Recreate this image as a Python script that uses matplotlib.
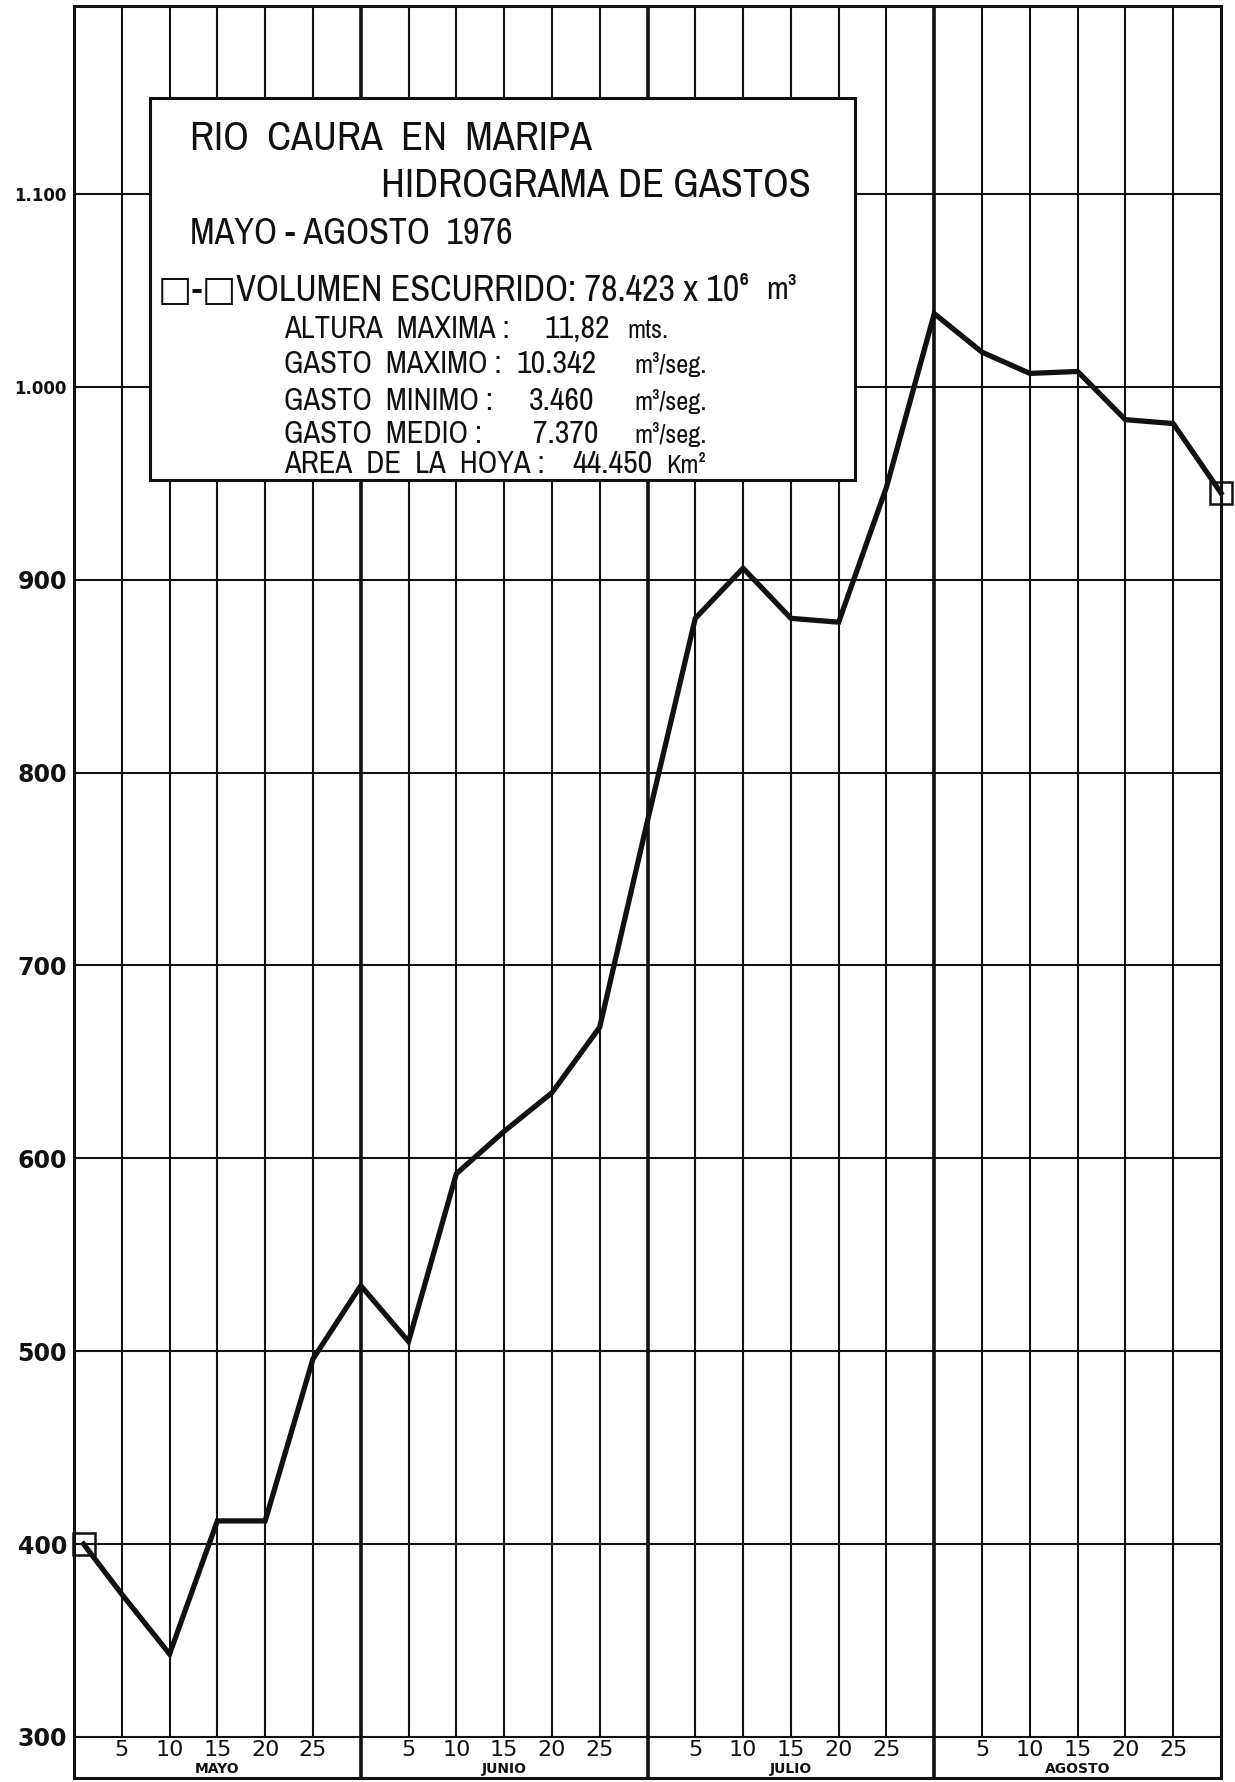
import matplotlib
matplotlib.use("Agg")
import matplotlib.pyplot as plt
from matplotlib import font_manager
from matplotlib.patches import Rectangle

meses = ["MAYO", "JUNIO", "JULIO", "AGOSTO"]
dias_marca = [5, 10, 15, 20, 25]
mes_idx = [0, 0, 0, 0, 0, 0, 0, 1, 1, 1, 1, 1, 1, 2, 2, 2, 2, 2, 2, 3, 3, 3, 3, 3, 3]
dia = [1, 5, 10, 15, 20, 25, 30, 5, 10, 15, 20, 25, 30, 5, 10, 15, 20, 25, 30, 5, 10, 15, 20, 25, 30]
caudal = [400, 374, 343, 412, 412, 496, 534, 505, 592, 614, 634, 668, 775,
          880, 906, 880, 878, 948, 1038, 1018, 1007, 1008, 983, 981, 945]
niveles = [300, 400, 500, 600, 700, 800, 900, 1000, 1100]
etiquetas_y = ["300", "400", "500", "600", "700", "800", "900", "1.000", "1.100"]

titulo_1 = "RIO  CAURA  EN  MARIPA"
titulo_2 = "HIDROGRAMA DE GASTOS"
periodo = "MAYO - AGOSTO  1976"
volumen = "□-□VOLUMEN ESCURRIDO: 78.423 x 10⁶"
datos_lab = ["ALTURA  MAXIMA :", "GASTO  MAXIMO :", "GASTO  MINIMO :", "GASTO  MEDIO :", "AREA  DE  LA  HOYA :"]
datos_val = ["11,82", "10.342", "3.460", "7.370", "44.450"]
datos_uni = ["mts.", "m³/seg.", "m³/seg.", "m³/seg.", "Km²"]

ink = "#111111"
W, H = 1235, 1782


def fx(x):
    return x / W


def fy(y):
    return 1 - y / H


# buscar alguna fuente estrecha instalada
estrecha = None
for f in font_manager.fontManager.ttflist:
    if "Narrow" in f.name or "Condensed" in f.name:
        estrecha = (f.name, "normal")
        break
    if str(f.stretch) in ("condensed", "semi-condensed") and f.name == "DejaVu Sans":
        estrecha = ("DejaVu Sans", "condensed")
if estrecha is None:
    estrecha = ("DejaVu Sans", "normal")
rotulo = [estrecha[0], "DejaVu Sans"]

fig = plt.figure(figsize=(W / 100, H / 100), dpi=100)
fig.patch.set_facecolor("white")

y0, y1 = 278.7, 1197.5
ax = fig.add_axes([fx(74), fy(1778), fx(1221) - fx(74), fy(6) - fy(1778)])
ax.set_xlim(0, 24)
ax.set_ylim(y0, y1)

x = [m * 6 + d / 5 for m, d in zip(mes_idx, dia)]
x_dias = [m * 6 + d / 5 for m in range(len(meses)) for d in dias_marca]
x_meses = [m * 6 for m in range(1, len(meses))]

ax.hlines(niveles, 0, 24, color=ink, lw=1.5, zorder=1)
ax.vlines(x_dias, 300, y1, color=ink, lw=1.5, zorder=1)
ax.vlines(x_meses, y0, y1, color=ink, lw=2.6, zorder=1)
for s in ax.spines.values():
    s.set_linewidth(2.2)
    s.set_color(ink)

ax.plot(x, caudal, color=ink, lw=3.8, solid_joinstyle="miter",
        marker="s", markevery=[0, len(x) - 1], ms=16, mfc="none", mec=ink, mew=1.8,
        clip_on=False, zorder=5)

ax.set_xticks([])
ax.set_yticks(niveles, etiquetas_y)
ax.tick_params(axis="y", length=0, pad=5)
for t in ax.get_yticklabels():
    t.set_fontweight("bold")
    t.set_fontsize(12 if "." in t.get_text() else 17)
    t.set_color(ink)

# etiquetas de dias y meses bajo la linea de 300
for xd, d in zip(x_dias, dias_marca * len(meses)):
    ax.text(xd, 293.3, str(d), ha="center", va="center", fontsize=16, color=ink)
for m, nombre in enumerate(meses):
    ax.text(m * 6 + 3, 283.3, nombre, ha="center", va="center", fontsize=10,
            fontweight="bold", color=ink)

# recuadro con la leyenda
fig.add_artist(Rectangle((fx(150), fy(480)), fx(855) - fx(150), fy(98) - fy(480),
                         transform=fig.transFigure, fc="white", ec=ink, lw=2.2, zorder=10))


def rotular(texto, x_izq, base, fs, **kw):
    return fig.text(fx(x_izq), fy(base), texto, family=rotulo, fontstretch=estrecha[1],
                    fontsize=fs, color=ink, zorder=11, **kw)


rotular(titulo_1, 190, 150, 29)
rotular(titulo_2, 381, 197, 29)
rotular(periodo, 190, 244, 26)
rotular(volumen, 158, 301, 26)
rotular("m³", 766, 299, 23, fontweight="bold")

base_y = [338, 373, 410, 443, 473]
val_izq = [544, 516, 529, 533, 572]
uni_izq = [627, 634, 634, 634, 666]
for i in range(len(datos_lab)):
    rotular(datos_lab[i], 284, base_y[i], 22)
    rotular(datos_val[i], val_izq[i], base_y[i], 23)
    rotular(datos_uni[i], uni_izq[i], base_y[i], 19, fontweight="bold")

fig.savefig("out.png", dpi=100)
